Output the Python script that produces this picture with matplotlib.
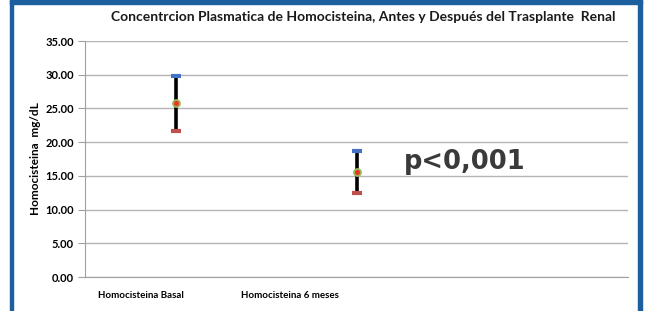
import matplotlib.pyplot as plt
from matplotlib.patches import Rectangle

# données
categorias = ["Homocisteina Basal", "Homocisteina 6 meses"]
altos = [29.8, 18.7]
medias = [25.8, 15.6]
bajos = [21.7, 12.5]
yticks = [0, 5, 10, 15, 20, 25, 30, 35]

titulo = "Concentrcion Plasmatica de Homocisteina, Antes y Después del Trasplante  Renal"
anotacion = "p<0,001"

plt.rcParams['font.family'] = ['Lato', 'DejaVu Sans']

fig = plt.figure(figsize=(6.46, 3.11), dpi=100)
ax = fig.add_axes([85 / 646, 1 - 277 / 311, 543 / 646, 236 / 311])

x = list(range(len(categorias)))

# barres hi-low
ax.vlines(x, bajos, altos, color="black", lw=2.6, zorder=3)
ax.scatter(x, altos, marker="_", s=45, lw=3, color="#4472c4", zorder=4)
ax.scatter(x, bajos, marker="_", s=45, lw=3, color="#c0504d", zorder=4)
ax.scatter(x, medias, marker="o", s=40, color="#9bbb59", zorder=4, lw=0)
ax.scatter(x, medias, marker="o", s=14, color="#e8382a", zorder=5, lw=0)

ax.set_xlim(-0.5, 2.5)
ax.set_ylim(0, 35)
ax.set_yticks(yticks)
ax.set_yticklabels([f"{v:.2f}" for v in yticks], fontsize=8, fontweight="bold")
ax.yaxis.grid(True, color="#b4b4b4", lw=1)
ax.set_axisbelow(True)

# étiquettes de catégories décalées comme sur l'original
ax.set_xticks([i - 0.19 - 0.18 * i for i in x])
ax.set_xticklabels(categorias, fontsize=7, fontweight="bold")
ax.tick_params(axis="x", length=0, pad=10)
ax.tick_params(axis="y", length=5, color="#a0a0a0", pad=3)

for s in ["top", "right"]:
    ax.spines[s].set_visible(False)
for s in ["left", "bottom"]:
    ax.spines[s].set_color("#a0a0a0")

ax.set_ylabel("Homocisteina  mg/dL", fontsize=8.5, fontweight="bold", labelpad=3)

fig.text(363 / 646, 1 - 17 / 311, titulo, ha="center", va="center",
         fontsize=10, fontweight="bold", color="#1a1a1a")
ax.text(1.6, 17.0, anotacion, ha="center", va="center", fontsize=18.5,
        fontweight="bold", color="#3a3a3a", family="DejaVu Sans")

# cadre bleu
azul = "#1b5f9e"
fig.patches.append(Rectangle((10 / 646, 1 - 4 / 311), 632 / 646, 4 / 311,
                             transform=fig.transFigure, color=azul))
fig.patches.append(Rectangle((10 / 646, 0), 3 / 646, 1,
                             transform=fig.transFigure, color=azul))
fig.patches.append(Rectangle((638 / 646, 0), 3.5 / 646, 1,
                             transform=fig.transFigure, color=azul))

fig.savefig("out.png", dpi=100)
